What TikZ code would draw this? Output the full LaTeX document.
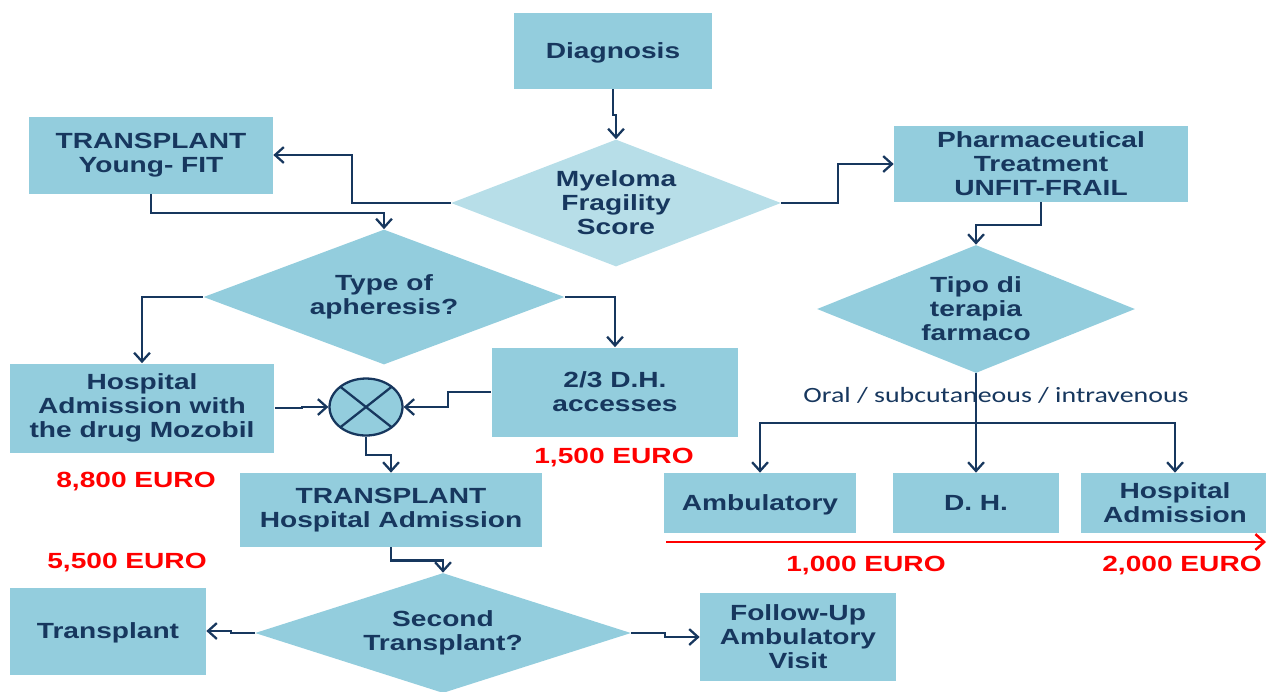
\documentclass[tikz,border=0pt]{standalone}
\usepackage{fontspec}
\setmainfont{Liberation Sans}[FakeStretch=1.28]
\newfontfamily\routefont{Carlito}[FakeStretch=1.28]
\usetikzlibrary{shapes.geometric,arrows.meta}
\definecolor{boxblue}{HTML}{93CDDD}
\definecolor{paleblue}{HTML}{B7DEE8}
\definecolor{navy}{HTML}{17375E}
\definecolor{costred}{HTML}{FF0000}

\begin{document}
\begin{tikzpicture}[x=0.02cm, y=-0.02cm,
    every node/.style={text=navy, align=center, font=\bfseries\fontsize{12.5}{13.6}\selectfont},
    box/.style={rectangle, fill=boxblue, inner sep=2pt},
    choice/.style={diamond, fill=boxblue, inner sep=0pt},
    flow/.style={draw=navy, line width=1.3pt, -{Straight Barb[length=5pt,width=9pt]}},
    cost/.style={text=costred}]
    \useasboundingbox (0,0) rectangle (1266,691);
    % --- diagnosis and fragility score ---
    \node[box, minimum width=3.96cm, minimum height=1.52cm, text depth=0pt] (diagnosis) at (613,51) {Diagnosis};
    \node[choice, fill=paleblue, minimum width=6.6cm, minimum height=2.54cm, shape aspect=2.6] (score) at (616,203) {Myeloma\\Fragility\\Score};
    \node[box, minimum width=4.88cm, minimum height=1.54cm] (fit) at (151,155) {TRANSPLANT\\Young- FIT};
    \node[box, minimum width=5.88cm, minimum height=1.52cm] (pharma) at (1041,164) {Pharmaceutical\\Treatment\\UNFIT-FRAIL};
    % --- transplant branch ---
    \node[choice, minimum width=7.22cm, minimum height=2.7cm, shape aspect=2.67] (apheresis) at (384,297) {Type of\\apheresis?};
    \node[box, minimum width=5.3cm, minimum height=1.78cm] (mozobil) at (142,408) {Hospital\\Admission with\\the drug Mozobil};
    \node[box, minimum width=4.94cm, minimum height=1.78cm] (dhacc) at (615,392) {2/3 D.H.\\accesses};
    \node[ellipse, draw=navy, line width=1.3pt, fill=boxblue, minimum width=1.46cm, minimum height=1.14cm] (mix) at (366,407) {};
    \draw[navy, line width=1.3pt] (mix.center) ++(-26,-20.5) -- ++(52,41)
                                  (mix.center) ++(-26,20.5) -- ++(52,-41);
    \node[box, minimum width=6.04cm, minimum height=1.48cm] (txadm) at (391,510) {TRANSPLANT\\Hospital Admission};
    \node[choice, minimum width=7.52cm, minimum height=2.4cm, shape aspect=3.1] (second) at (443,633) {Second\\Transplant?};
    \node[box, minimum width=3.92cm, minimum height=1.74cm, text depth=0pt] (transplant) at (108,631) {Transplant};
    \node[box, minimum width=3.92cm, minimum height=1.76cm] (followup) at (798,637) {Follow-Up\\Ambulatory\\Visit};
    % --- drug therapy branch ---
    \node[choice, minimum width=6.36cm, minimum height=2.56cm, shape aspect=2.5] (therapy) at (976,309) {Tipo di\\terapia\\farmaco};
    \node[box, minimum width=3.84cm, minimum height=1.2cm, text depth=0pt] (amb) at (760,503) {Ambulatory};
    \node[box, minimum width=3.32cm, minimum height=1.2cm, text depth=0pt] (dh) at (976,503) {D. H.};
    \node[box, minimum width=3.76cm, minimum height=1.2cm] (hadm) at (1175,503) {Hospital\\Admission};
    \node[font=\routefont\fontsize{12.4}{14}\selectfont] (route) at (996,395) {Oral / subcutaneous / intravenous};
    \coordinate (split) at (976,423);
    % --- connectors ---
    \draw[flow] (diagnosis.south) -- ++(0,26) -| (score.north);
    \draw[flow] (score.west) -- ++(-99,0) |- (fit.east);
    \draw[flow] (fit.south) -- ++(0,19) -| (apheresis.north);
    \draw[flow] (score.east) -- ++(57,0) |- (pharma.west);
    \draw[flow] (pharma.south) -- ++(0,23) -| (therapy.north);
    \draw[flow] (apheresis.west) -| (mozobil.north);
    \draw[flow] (apheresis.east) -| (dhacc.north);
    \draw[flow] (mozobil.east) -- ++(27,0) |- (mix.west);
    \draw[flow] (dhacc.west) -- ++(-43,0) |- (mix.east);
    \draw[flow] (mix.south) -- ++(0,18) -| (txadm.north);
    \draw[flow] (txadm.south) -- ++(0,13) -| (second.north);
    \draw[flow] (second.west) -- ++(-24,0) |- (transplant.east);
    \draw[flow] (second.east) -- ++(34,0) |- (followup.west);
    \draw[navy, line width=1.3pt] (therapy.south) -- (split);
    \draw[flow] (split) -| (amb.north);
    \draw[flow] (split) -- (dh.north);
    \draw[flow] (split) -| (hadm.north);
    % --- costs ---
    \coordinate (cost start) at (666,542);
    \coordinate (cost end) at (1266,542);
    \draw[costred, line width=1.4pt, -{Straight Barb[length=5pt,width=9pt]}] (cost start) -- (cost end);
    \node[cost] (c8800) at (136,482) {8,800 EURO};
    \node[cost] (c1500) at (614,458) {1,500 EURO};
    \node[cost] (c5500) at (127,563) {5,500 EURO};
    \node[cost] (c1000) at (866,566) {1,000 EURO};
    \node[cost] (c2000) at (1182,566) {2,000 EURO};
\end{tikzpicture}
\end{document}
